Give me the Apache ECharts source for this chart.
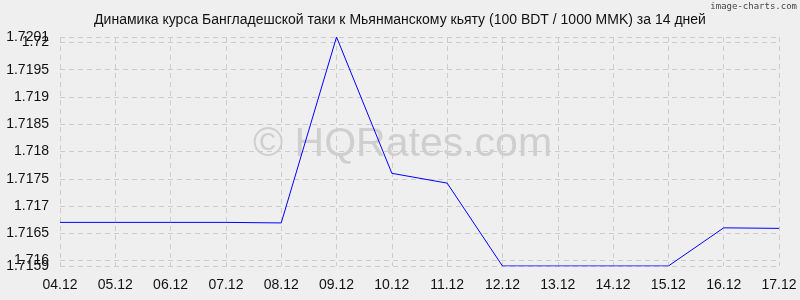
<!DOCTYPE html>
<html><head><meta charset="utf-8">
<script src="https://cdn.jsdelivr.net/npm/echarts@6/dist/echarts.min.js"></script>
<style>html,body{margin:0;padding:0;background:#efefef}#c{width:800px;height:300px}</style>
</head><body><div id="c"></div>
<script>
const categories = ['04.12','05.12','06.12','07.12','08.12','09.12','10.12','11.12','12.12','13.12','14.12','15.12','16.12','17.12'];
const rates = [1.7167,1.7167,1.7167,1.7167,1.71669,1.7201,1.7176,1.71742,1.7159,1.7159,1.7159,1.7159,1.7166,1.71659];
const yTicks = [1.716,1.7165,1.717,1.7175,1.718,1.7185,1.719,1.7195,1.72];
const yBounds = [1.7159,1.7201];
const chart = echarts.init(document.getElementById('c'));
const lbl = {color:'#111',fontFamily:'Liberation Sans',fontSize:14};
const fmt = v=>String(+v.toFixed(4));
chart.setOption({
  backgroundColor:'#efefef',
  animation:false,
  title:{text:'Динамика курса Бангладешской таки к Мьянманскому кьяту (100 BDT / 1000 MMK) за 14 дней',left:'center',top:8,textStyle:{fontFamily:'Liberation Sans',fontSize:14,fontWeight:'normal',color:'#111'}},
  graphic:[
    {type:'text',right:3,top:2,style:{text:'image-charts.com',font:'9px DejaVu Sans Mono',fill:'#444'}},
    {type:'text',left:253,top:124,style:{text:'© HQRates.com',font:'41px Liberation Sans',fill:'rgba(150,150,150,0.35)'}}
  ],
  grid:{left:60,right:21,top:37,bottom:34},
  xAxis:{type:'category',data:categories,boundaryGap:false,
    axisLine:{show:false},axisTick:{show:false},
    axisLabel:Object.assign({margin:12,interval:0},lbl),
    splitLine:{show:true,interval:0,lineStyle:{color:'#ccc',type:[5,4]}}},
  yAxis:[
    {type:'value',min:yBounds[0],max:yBounds[1],position:'left',
    axisLine:{show:false},
    axisTick:{show:false,customValues:yTicks},
    axisLabel:Object.assign({customValues:yTicks,margin:11,showMinLabel:true,showMaxLabel:true,formatter:fmt},lbl),
    splitLine:{show:true,lineStyle:{color:'#ccc',type:[5,4]}}},
    {type:'value',min:yBounds[0],max:yBounds[1],position:'left',offset:0,
    axisLine:{show:false},
    axisTick:{show:false,customValues:yBounds},
    axisLabel:Object.assign({customValues:yBounds,margin:11,showMinLabel:true,showMaxLabel:true,formatter:fmt},lbl),
    splitLine:{show:true,lineStyle:{color:'#ccc',type:[5,4]}}}
  ],
  series:[{type:'line',data:rates,showSymbol:false,lineStyle:{color:'#0000ff',width:1},itemStyle:{color:'#0000ff'}}]
});
</script></body></html>
